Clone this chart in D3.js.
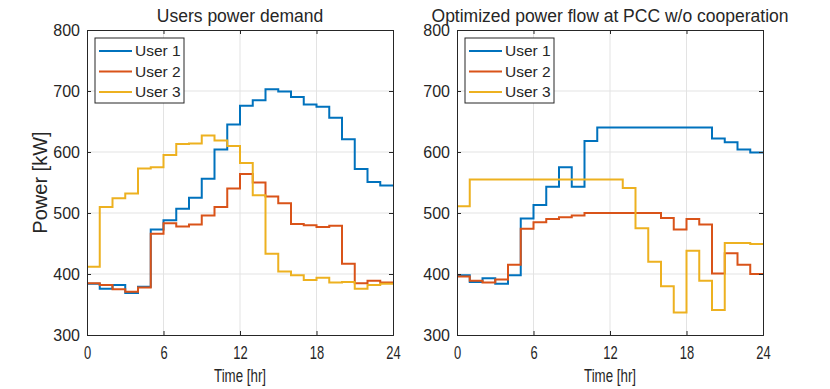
<!DOCTYPE html>
<html>
<head>
<meta charset="utf-8">
<script src="https://cdn.jsdelivr.net/npm/d3@7"></script>
<style>
  body { margin: 0; background: #fff; }
  text { font-family: "Liberation Sans", Arial, sans-serif; fill: #262626; }
</style>
</head>
<body>
<div id="chart"></div>
<script>
// hourly values, kW
var hours = d3.range(0, 24);
var userNames = ["User 1", "User 2", "User 3"];
var userColors = ["#0072BD", "#D95319", "#EDB120"];

var demand1 = [384, 376, 382, 369, 379, 473, 488, 507, 525, 556, 604, 645, 676, 685, 703, 699, 690, 678, 674, 656, 621, 572, 551, 545];
var demand2 = [385, 382, 375, 371, 378, 466, 483, 478, 481, 496, 510, 540, 564, 550, 527, 516, 482, 480, 477, 479, 417, 385, 389, 386];
var demand3 = [412, 510, 524, 532, 573, 575, 595, 613, 614, 627, 619, 610, 582, 529, 433, 404, 398, 390, 394, 386, 387, 376, 382, 384];

var flow1 = [398, 387, 393, 384, 398, 491, 513, 543, 575, 543, 618, 640, 640, 640, 640, 640, 640, 640, 640, 640, 622, 616, 604, 599];
var flow2 = [396, 389, 386, 391, 415, 474, 485, 490, 493, 496, 500, 500, 500, 500, 500, 500, 492, 473, 490, 481, 401, 434, 415, 400];
var flow3 = [511, 555, 555, 555, 555, 555, 555, 555, 555, 555, 555, 555, 555, 541, 475, 420, 380, 337, 438, 389, 341, 451, 451, 449];

var xTicks = [0, 6, 12, 18, 24];
var yTicks = [300, 400, 500, 600, 700, 800];

var svgWidth = 830;
var svgHeight = 389;
var plotTop = 30, plotBottom = 335;

var svg = d3.select("#chart")
  .append("svg")
  .attr("width", svgWidth)
  .attr("height", svgHeight);

// one panel = one MATLAB axes
function drawPanel(left, right, title, series, showYLabel) {
  var x = d3.scaleLinear().domain([0, 24]).range([left, right]);
  var y = d3.scaleLinear().domain([300, 800]).range([plotBottom, plotTop]);
  var g = svg.append("g");

  // grid
  g.selectAll(".vgrid").data(xTicks.slice(1, -1)).enter()
    .append("line")
    .attr("x1", d => x(d)).attr("x2", d => x(d))
    .attr("y1", plotTop).attr("y2", plotBottom)
    .attr("stroke", "#e3e3e3").attr("stroke-width", 1);
  g.selectAll(".hgrid").data(yTicks.slice(1, -1)).enter()
    .append("line")
    .attr("x1", left).attr("x2", right)
    .attr("y1", d => y(d)).attr("y2", d => y(d))
    .attr("stroke", "#e3e3e3").attr("stroke-width", 1);

  // stairs
  var line = d3.line()
    .x(d => x(d[0]))
    .y(d => y(d[1]))
    .curve(d3.curveStepAfter);
  series.forEach(function(vals, i) {
    var pts = hours.map(h => [h, vals[h]]);
    pts.push([24, vals[23]]);
    g.append("path")
      .datum(pts)
      .attr("d", line)
      .attr("fill", "none")
      .attr("stroke", userColors[i])
      .attr("stroke-width", 2);
  });

  // axes, ticks pointing inward like MATLAB
  var bottomAxis = d3.axisBottom(x).tickValues(xTicks).tickSize(-4).tickPadding(12);
  var leftAxis = d3.axisLeft(y).tickValues(yTicks).tickSize(-4).tickPadding(7);
  var xAxis = g.append("g")
    .attr("transform", `translate(0, ${plotBottom})`)
    .call(bottomAxis);
  xAxis.selectAll("text")
    .attr("font-size", 17.5)
    .attr("transform", "scale(0.74,1)");
  var yAxis = g.append("g")
    .attr("transform", `translate(${left}, 0)`)
    .call(leftAxis);
  yAxis.selectAll("text").attr("font-size", 16).attr("dy", "0.35em");
  g.append("g")
    .attr("transform", `translate(0, ${plotTop})`)
    .call(d3.axisTop(x).tickValues(xTicks).tickSize(-4).tickFormat(""));
  g.append("g")
    .attr("transform", `translate(${right}, 0)`)
    .call(d3.axisRight(y).tickValues(yTicks).tickSize(-4).tickFormat(""));
  g.selectAll(".domain").attr("stroke", "#262626");
  g.selectAll(".tick line").attr("stroke", "#262626");
  g.selectAll(".tick text").attr("fill", "#262626").attr("font-family", "Liberation Sans, Arial, sans-serif");

  // title and labels
  g.append("text")
    .attr("x", (left + right) / 2)
    .attr("y", 22)
    .attr("text-anchor", "middle")
    .attr("font-size", 17.5)
    .text(title);
  g.append("text")
    .attr("transform", `translate(${(left + right) / 2}, 382) scale(0.72,1)`)
    .attr("text-anchor", "middle")
    .attr("font-size", 18.5)
    .text("Time [hr]");
  if (showYLabel) {
    g.append("text")
      .attr("transform", `translate(47, ${(plotTop + plotBottom) / 2}) rotate(-90)`)
      .attr("text-anchor", "middle")
      .attr("font-size", 20)
      .text("Power [kW]");
  }

  // legend
  var lg = g.append("g").attr("transform", `translate(${left + 8}, 38)`);
  lg.append("rect")
    .attr("x", 0).attr("y", 0)
    .attr("width", 89).attr("height", 65)
    .attr("fill", "#fff")
    .attr("stroke", "#262626").attr("stroke-width", 1);
  userNames.forEach(function(name, i) {
    var ly = 13 + i * 20.5;
    lg.append("line")
      .attr("x1", 4).attr("x2", 37)
      .attr("y1", ly).attr("y2", ly)
      .attr("stroke", userColors[i]).attr("stroke-width", 2);
    lg.append("text")
      .attr("x", 40).attr("y", ly)
      .attr("dy", "0.35em")
      .attr("font-size", 15.5)
      .text(name);
  });
}

drawPanel(87, 393, "Users power demand", [demand1, demand2, demand3], true);
drawPanel(457, 763, "Optimized power flow at PCC w/o cooperation", [flow1, flow2, flow3], false);
</script>
</body>
</html>
